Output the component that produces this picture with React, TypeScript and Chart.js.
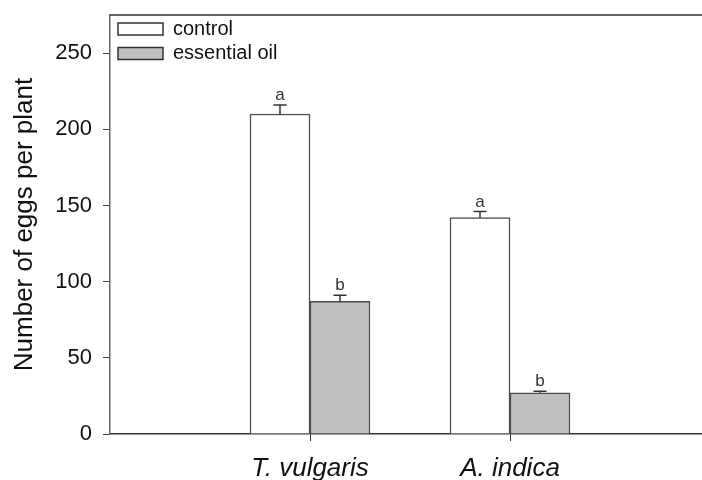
import React, { useEffect, useRef } from "react";
import { Chart, registerables } from "chart.js";

Chart.register(...registerables);

const categories = ["T. vulgaris", "A. indica"];
const seriesNames = ["control", "essential oil"];
const controlValues = [210, 142];
const controlErrors = [6, 4];
const oilValues = [87, 27];
const oilErrors = [4, 1];
const controlLetters = ["a", "a"];
const oilLetters = ["b", "b"];
const yTickValues = [0, 50, 100, 150, 200, 250];
const yMax = 275;
const xMin = 0;
const xMax = 3;

const FONT = "Arial, 'Liberation Sans', sans-serif";

const errorPlugin = {
  id: "errorBars",
  afterDatasetsDraw(chart: any) {
    const ctx = chart.ctx;
    const y = chart.scales.y;
    const errs = [controlErrors, oilErrors];
    const vals = [controlValues, oilValues];
    const letters = [controlLetters, oilLetters];
    ctx.save();
    chart.data.datasets.forEach((_ds: any, di: number) => {
      const meta = chart.getDatasetMeta(di);
      meta.data.forEach((bar: any, i: number) => {
        const top = y.getPixelForValue(vals[di][i]);
        const capY = y.getPixelForValue(vals[di][i] + errs[di][i]);
        ctx.strokeStyle = "#333";
        ctx.lineWidth = 1.5;
        ctx.beginPath();
        ctx.moveTo(bar.x, top);
        ctx.lineTo(bar.x, capY);
        ctx.moveTo(bar.x - 6.5, capY);
        ctx.lineTo(bar.x + 6.5, capY);
        ctx.stroke();
        ctx.fillStyle = "#333";
        ctx.font = `17px ${FONT}`;
        ctx.textAlign = "center";
        ctx.textBaseline = "alphabetic";
        ctx.fillText(letters[di][i], bar.x, capY - 5);
      });
    });
    ctx.restore();
  },
};

const framePlugin = {
  id: "frameAndLegend",
  afterDraw(chart: any) {
    const ctx = chart.ctx;
    const a = chart.chartArea;
    ctx.save();
    ctx.strokeStyle = "#333";
    ctx.lineWidth = 1.5;
    ctx.beginPath();
    ctx.moveTo(a.left, a.top);
    ctx.lineTo(a.right, a.top);
    ctx.stroke();
    const fills = ["#ffffff", "#c0c0c0"];
    seriesNames.forEach((name, i) => {
      const bx = a.left + 8;
      const by = a.top + 8 + i * 24.5;
      ctx.fillStyle = fills[i];
      ctx.fillRect(bx, by, 45, 12);
      ctx.strokeStyle = "#333";
      ctx.lineWidth = 1.5;
      ctx.strokeRect(bx, by, 45, 12);
      ctx.fillStyle = "#111";
      ctx.font = `20px ${FONT}`;
      ctx.textAlign = "left";
      ctx.textBaseline = "middle";
      ctx.fillText(name, bx + 55, by + 6);
    });
    ctx.restore();
  },
};

export default function App() {
  const ref = useRef<HTMLCanvasElement>(null);
  useEffect(() => {
    if (!ref.current) return;
    const chart = new Chart(ref.current, {
      type: "bar",
      data: {
        datasets: [
          {
            label: seriesNames[0],
            data: categories.map((_c, i) => ({ x: i + 1, y: controlValues[i] })),
            backgroundColor: "#ffffff",
            borderColor: "#4d4d4d",
            borderWidth: 1.5,
            barThickness: 60,
          },
          {
            label: seriesNames[1],
            data: categories.map((_c, i) => ({ x: i + 1, y: oilValues[i] })),
            backgroundColor: "#c0c0c0",
            borderColor: "#4d4d4d",
            borderWidth: 1.5,
            barThickness: 60,
          },
        ],
      },
      options: {
        responsive: false,
        animation: false,
        layout: { padding: { top: 0, right: 10, bottom: 0, left: 0 } },
        plugins: { legend: { display: false }, tooltip: { enabled: false } },
        scales: {
          x: {
            type: "linear",
            min: xMin,
            max: xMax,
            offset: false,
            afterBuildTicks: (scale: any) => {
              scale.ticks = categories.map((_c, i) => ({ value: i + 1 }));
            },
            afterFit: (scale: any) => {
              scale.height = 46;
            },
            grid: {
              offset: false,
              drawOnChartArea: false,
              drawTicks: true,
              tickLength: 7,
              tickColor: "#333",
              tickWidth: 1,
            },
            border: { display: true, color: "#333", width: 1.5 },
            ticks: {
              autoSkip: false,
              maxRotation: 0,
              padding: 12,
              color: "#111",
              font: { family: FONT, size: 26, style: "italic" },
              callback: (v: any) => categories[Math.round(v) - 1] ?? "",
            },
          },
          y: {
            min: 0,
            max: yMax,
            afterBuildTicks: (scale: any) => {
              scale.ticks = yTickValues.map((v) => ({ value: v }));
            },
            afterFit: (scale: any) => {
              scale.width = 110;
              scale.paddingTop = 15;
            },
            grid: {
              drawOnChartArea: false,
              drawTicks: true,
              tickLength: 7,
              tickColor: "#444",
              tickWidth: 1,
            },
            border: { display: true, color: "#666", width: 1.5 },
            ticks: {
              padding: 11,
              color: "#111",
              font: { family: FONT, size: 22 },
            },
            title: {
              display: true,
              text: "Number of eggs per plant",
              color: "#111",
              font: { family: FONT, size: 26 },
              padding: { top: 9, bottom: 0 },
            },
          },
        },
      },
      plugins: [errorPlugin, framePlugin],
    });
    return () => chart.destroy();
  }, []);
  return (
    <div
      style={{
        position: "absolute",
        left: 0,
        top: 0,
        width: 702,
        height: 480,
        overflow: "hidden",
        background: "#fff",
      }}
    >
      <canvas ref={ref} width={720} height={480} style={{ width: 720, height: 480, display: "block" }} />
    </div>
  );
}
